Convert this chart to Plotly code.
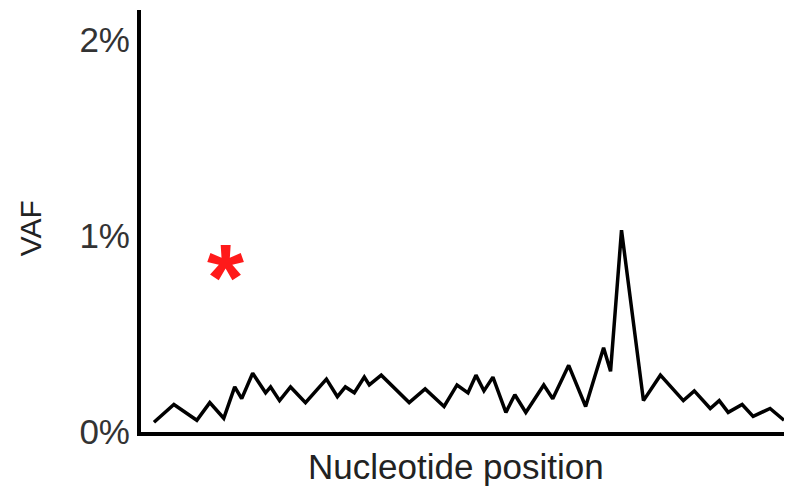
import plotly.graph_objects as go

# Nucleotide position (arbitrary units) and VAF (%)
positions = [13, 33, 56, 69, 83, 94, 101, 112, 125, 130, 139, 150, 165, 186, 197,
             205, 214, 224, 229, 241, 269, 285, 304, 317, 328, 336, 344, 353, 366,
             375, 386, 404, 413, 429, 446, 464, 471, 482, 504, 521, 544, 555, 571,
             580, 589, 603, 614, 631, 645]
vaf = [0.05, 0.14, 0.06, 0.15, 0.07, 0.23, 0.17, 0.30, 0.20, 0.23, 0.16, 0.23, 0.15,
       0.27, 0.18, 0.23, 0.20, 0.28, 0.24, 0.29, 0.15, 0.22, 0.13, 0.24, 0.20, 0.29,
       0.21, 0.28, 0.10, 0.19, 0.10, 0.24, 0.17, 0.34, 0.13, 0.43, 0.31, 1.03, 0.16,
       0.29, 0.16, 0.21, 0.12, 0.16, 0.10, 0.14, 0.08, 0.12, 0.06]
y_ticks = [0, 1, 2]
y_tick_labels = ["0%", "1%", "2%"]
star_position = 85
star_vaf = 0.86

FONT = "Liberation Sans, Arial, sans-serif"

# the page places the figure 8px in from the top-left corner
fig = go.Figure()
fig.add_trace(go.Scatter(x=positions, y=vaf, mode="lines",
                         line=dict(color="black", width=3.5), hoverinfo="skip"))

fig.add_annotation(x=star_position, y=star_vaf, xref="x", yref="y", text="<b>*</b>",
                   showarrow=False, font=dict(family=FONT, size=95, color="#ff1a1a"),
                   yshift=-14)
fig.add_annotation(x=(455 - 139) / 653, y=-(467 - 432) / 422, xref="paper", yref="paper",
                   xanchor="center", yanchor="middle",
                   text="Nucleotide position", showarrow=False,
                   font=dict(family=FONT, size=35, color="#222222"))
fig.add_annotation(x=(28 - 139) / 653, y=(432 - 228) / 422, xref="paper", yref="paper",
                   xanchor="center", yanchor="middle",
                   text="VAF", textangle=-90, showarrow=False,
                   font=dict(family=FONT, size=30, color="#222222"))

fig.update_layout(
    width=784, height=479,
    margin=dict(l=133, r=0, t=2, b=55),
    paper_bgcolor="white", plot_bgcolor="white",
    showlegend=False,
    xaxis=dict(range=[0, 653], showline=True, linecolor="black", linewidth=4,
               showticklabels=False, ticks="", showgrid=False, zeroline=False,
               fixedrange=True),
    yaxis=dict(range=[0, 422 / 196], showline=True, linecolor="black", linewidth=4,
               tickvals=y_ticks, ticktext=y_tick_labels, ticks="",
               ticklabelstandoff=0,
               tickfont=dict(family=FONT, size=35, color="#333333"),
               showgrid=False, zeroline=False, fixedrange=True),
)

fig.write_html("out.html")
